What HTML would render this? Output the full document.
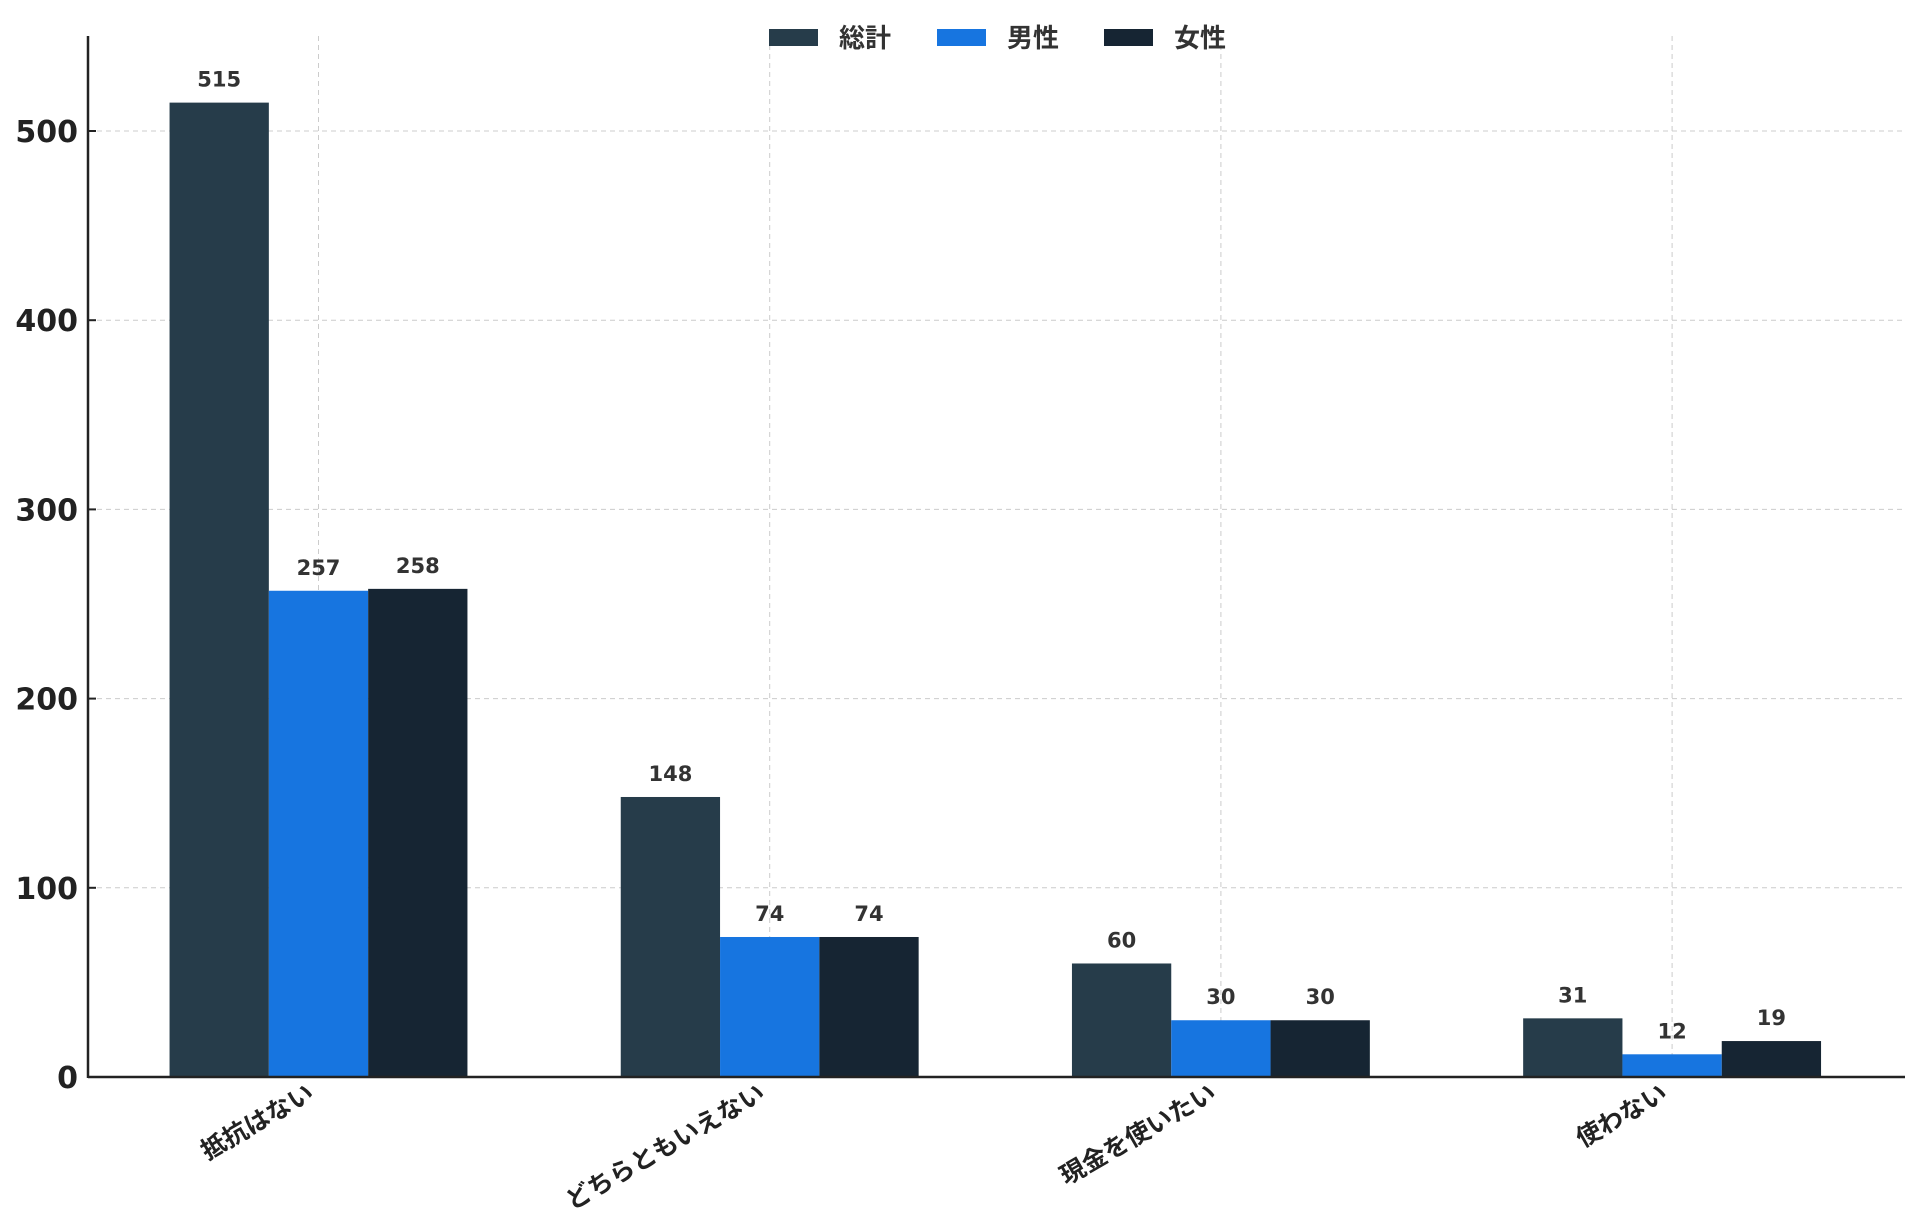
<!DOCTYPE html>
<html><head><meta charset="utf-8"><style>
body{margin:0;background:#fff;}
svg{display:block;font-family:"DejaVu Sans","Noto Sans CJK JP",sans-serif;}
</style></head><body>
<svg id="chart" width="1920" height="1218"></svg>
<script>
const categories=["抵抗はない","どちらともいえない","現金を使いたい","使わない"];
const totalValues=[515,148,60,31];
const maleValues=[257,74,30,12];
const femaleValues=[258,74,30,19];
const seriesNames=["総計","男性","女性"];
const yTicks=[0,100,200,300,400,500];
const colors=["#263c4a","#1775e0","#162533"];
const NS="http://www.w3.org/2000/svg";
const svg=document.getElementById('chart');
const x0=88,x1=1905,yBase=1077,yTop=36;
const yScale=v=>yBase-v*1.892;
const groupW=451.2;
const xCenter=i=>318.5+i*groupW;
const barW=99.3;
function mk(t,a){const e=document.createElementNS(NS,t);for(const k in a)e.setAttribute(k,a[k]);svg.appendChild(e);return e;}
yTicks.forEach(t=>{if(t===0)return;
 const g=mk('line',{x1:x0,x2:x1,y1:yScale(t),y2:yScale(t),stroke:'#ccc','stroke-dasharray':'5,4','stroke-width':1});
 
 
});
categories.forEach((c,i)=>{
 const g=mk('line',{x1:xCenter(i),x2:xCenter(i),y1:yTop,y2:yBase,stroke:'#ccc','stroke-dasharray':'5,4','stroke-width':1});
 
 
});
const series=[totalValues,maleValues,femaleValues];
series.forEach((vals,s)=>{
 vals.forEach((v,i)=>{
  const x=xCenter(i)+(s-1.5)*barW;
  const r=mk('rect',{x:x,y:yScale(v),width:barW,height:yBase-yScale(v),fill:colors[s]});
  
  
  const t=mk('text',{x:x+barW/2,y:yScale(v)-16,'text-anchor':'middle','font-size':21,'font-weight':'bold',fill:'#333'});
  t.textContent=v;
  
  
 });
});
const ya=mk('line',{x1:x0,x2:x0,y1:yTop,y2:yBase+1,stroke:'#222','stroke-width':2.5});


const xa=mk('line',{x1:x0,x2:x1,y1:yBase,y2:yBase,stroke:'#222','stroke-width':2.5});


yTicks.forEach(t=>{
 const tk=mk('line',{x1:x0,x2:x0+8,y1:yScale(t),y2:yScale(t),stroke:'#222','stroke-width':2});
 
 
 const l=mk('text',{x:78,y:yScale(t)+11,'text-anchor':'end','font-size':30,'font-weight':'bold',fill:'#222'});
 l.textContent=t;
 
 
});
categories.forEach((c,i)=>{
 const x=xCenter(i)-3,y=1098;
 const l=mk('text',{x:x,y:y,'text-anchor':'end','font-size':25,'font-weight':'bold',fill:'#222',transform:`rotate(-30 ${x} ${y})`});
 l.textContent=c;
 
 
});
const lx=[769,937,1104];
seriesNames.forEach((n,s)=>{
 const r=mk('rect',{x:lx[s],y:29,width:49,height:17,fill:colors[s]});
 
 
 const t=mk('text',{x:lx[s]+70,y:47,'font-size':26,'font-weight':'bold',fill:'#333'});
 t.textContent=n;
 
 
});
</script>
</body></html>
